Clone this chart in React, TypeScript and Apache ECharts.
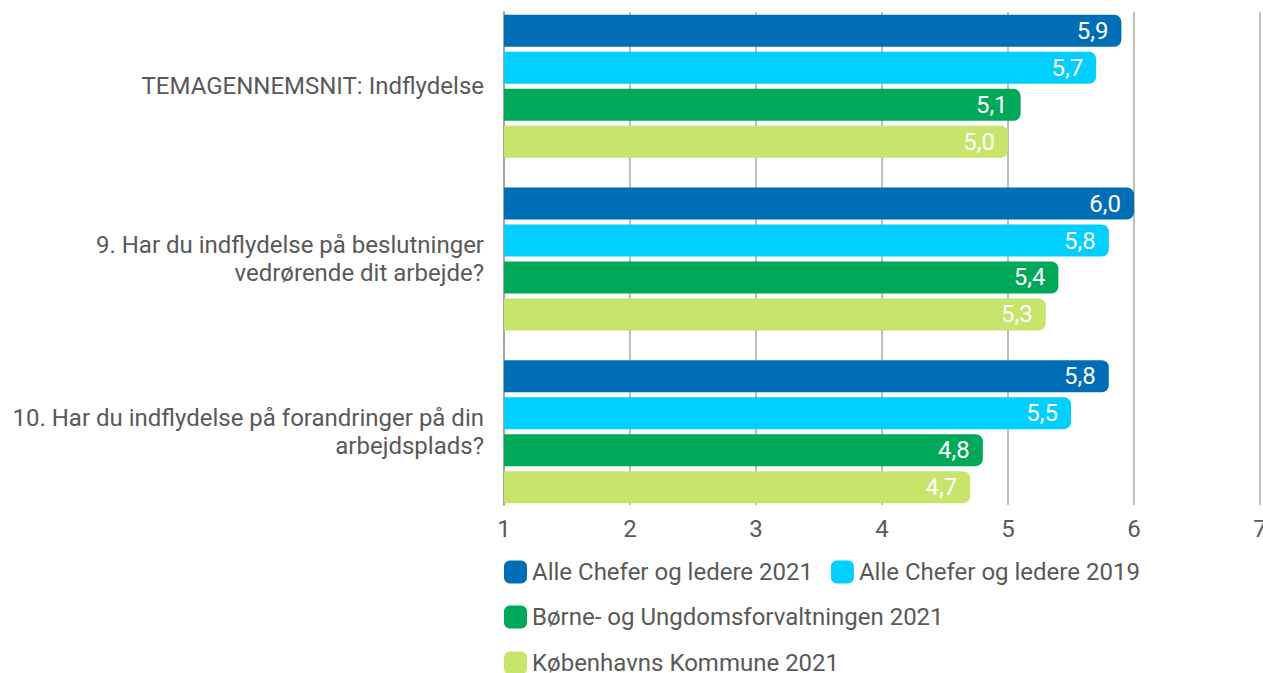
import React, { useEffect, useRef } from "react";
import * as echarts from "echarts";

const categories = [
  "TEMAGENNEMSNIT: Indflydelse",
  "9. Har du indflydelse på beslutninger\nvedrørende dit arbejde?",
  "10. Har du indflydelse på forandringer på din\narbejdsplads?",
];
const seriesNames = [
  "Alle Chefer og ledere 2021",
  "Alle Chefer og ledere 2019",
  "Børne- og Ungdomsforvaltningen 2021",
  "Københavns Kommune 2021",
];
const alle2021 = [5.9, 6.0, 5.8];
const alle2019 = [5.7, 5.8, 5.5];
const bufBorne2021 = [5.1, 5.4, 4.8];
const kk2021 = [5.0, 5.3, 4.7];
const seriesValues = [alle2021, alle2019, bufBorne2021, kk2021];
const colors = ["#006EB7", "#00CFFF", "#00A85A", "#C7E56A"];
const axisMin = 1;
const axisMax = 7;

export default function App() {
  const ref = useRef<HTMLDivElement>(null);
  useEffect(() => {
    if (!ref.current) return;
    const chart = echarts.init(ref.current, undefined, { renderer: "svg" });
    const textColor = "#595959";
    const fs = 24;
    const option: any = {
      animation: false,
      textStyle: { fontFamily: "Roboto" },
      grid: [
        { left: 504, top: 12, width: 756, height: 493, outerBoundsMode: "none", containLabel: false },
        { left: 504, top: 0, width: 756, height: 518, outerBoundsMode: "none", containLabel: false },
      ],
      xAxis: [
        {
          gridIndex: 0,
          type: "value",
          min: axisMin,
          max: axisMax,
          interval: 1,
          axisLine: { show: false },
          axisTick: { show: false },
          splitLine: { show: true, lineStyle: { color: "#BFBFBF", width: 2 } },
          axisLabel: { fontSize: fs, color: textColor, margin: 12, fontFamily: "Roboto" },
        },
        {
          gridIndex: 1,
          type: "value",
          min: axisMin,
          max: axisMax,
          show: false,
          splitLine: { show: false },
        },
      ],
      yAxis: [
        {
          gridIndex: 0,
          type: "category",
          data: categories,
          inverse: true,
          axisLine: { show: true, lineStyle: { color: "#A6A6A6", width: 2 } },
          axisTick: { show: false },
          axisLabel: { show: false },
          splitLine: { show: false },
        },
        {
          gridIndex: 1,
          type: "category",
          data: categories,
          inverse: true,
          axisLine: { show: false },
          axisTick: { show: false },
          axisLabel: {
            fontSize: fs,
            color: textColor,
            margin: 20,
            lineHeight: 28,
            align: "right",
            fontFamily: "Roboto",
          },
        },
      ],
      legend: [
        {
          data: [seriesNames[0], seriesNames[1]],
          left: 504,
          top: 560,
          padding: 0,
          itemWidth: 23,
          itemHeight: 23,
          itemGap: 18,
          icon: "roundRect",
          textStyle: { fontSize: fs, color: textColor, fontFamily: "Roboto" },
        },
        {
          data: [seriesNames[2]],
          left: 504,
          top: 605,
          padding: 0,
          itemWidth: 23,
          itemHeight: 23,
          icon: "roundRect",
          textStyle: { fontSize: fs, color: textColor, fontFamily: "Roboto" },
        },
        {
          data: [seriesNames[3]],
          left: 504,
          top: 651,
          padding: 0,
          itemWidth: 23,
          itemHeight: 23,
          icon: "roundRect",
          textStyle: { fontSize: fs, color: textColor, fontFamily: "Roboto" },
        },
      ],
      series: seriesNames.map((name, i) => ({
        name,
        type: "bar",
        xAxisIndex: 1,
        yAxisIndex: 1,
        data: seriesValues[i],
        barWidth: 32,
        barGap: "15.6%",
        itemStyle: { color: colors[i], borderRadius: [0, 7, 7, 0] },
        label: {
          show: true,
          position: "insideRight",
          distance: 13,
          color: "#FFFFFF",
          fontSize: fs,
          fontFamily: "Roboto",
          formatter: (p: any) => Number(p.value).toFixed(1).replace(".", ","),
        },
      })),
    };
    chart.setOption(option);
    return () => chart.dispose();
  }, []);
  return (
    <div
      ref={ref}
      style={{ position: "fixed", left: 0, top: 0, width: 1263, height: 673, background: "#fff" }}
    />
  );
}
